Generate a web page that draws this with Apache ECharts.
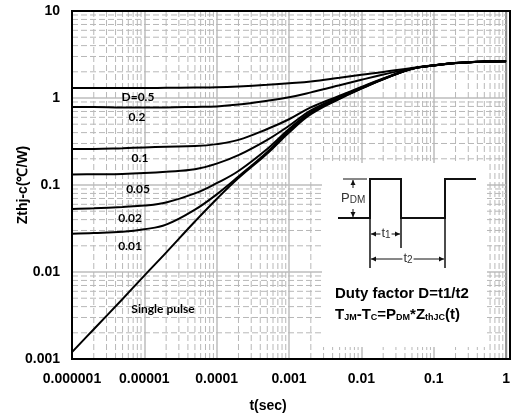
<!DOCTYPE html>
<html>
<head>
<meta charset="utf-8">
<script src="https://cdn.jsdelivr.net/npm/echarts@6/dist/echarts.min.js"></script>
<style>
  html, body { margin: 0; padding: 0; background: #fff; }
  #chart { width: 513px; height: 419px; }
</style>
</head>
<body>
<div id="chart"></div>
<script>
// 时间采样点 (s)
var timeValues = [1e-6, 2e-6, 5e-6, 1e-5, 2e-5, 5e-5, 1e-4, 2e-4, 5e-4, 1e-3, 2e-3, 5e-3, 1e-2, 2e-2, 5e-2, 0.1, 0.2, 0.5, 1];

// 各占空比下的瞬态热阻 Zthj-c (℃/W)
var zthD05 = [1.30, 1.30, 1.30, 1.30, 1.31, 1.32, 1.33, 1.36, 1.42, 1.48, 1.55, 1.71, 1.85, 1.99, 2.22, 2.38, 2.52, 2.62, 2.65];
var zthD02 = [0.79, 0.79, 0.78, 0.78, 0.78, 0.79, 0.80, 0.84, 0.93, 1.02, 1.16, 1.40, 1.62, 1.86, 2.19, 2.37, 2.52, 2.62, 2.65];
var zthD01 = [0.26, 0.26, 0.265, 0.27, 0.275, 0.28, 0.295, 0.33, 0.44, 0.57, 0.78, 1.06, 1.34, 1.68, 2.18, 2.37, 2.52, 2.62, 2.65];
var zthD005 = [0.132, 0.133, 0.134, 0.137, 0.142, 0.152, 0.176, 0.22, 0.33, 0.48, 0.72, 1.03, 1.32, 1.66, 2.17, 2.37, 2.52, 2.62, 2.65];
var zthD002 = [0.053, 0.054, 0.056, 0.058, 0.063, 0.08, 0.105, 0.145, 0.26, 0.44, 0.69, 1.0, 1.30, 1.65, 2.17, 2.37, 2.52, 2.62, 2.65];
var zthD001 = [0.0275, 0.028, 0.029, 0.031, 0.035, 0.052, 0.078, 0.125, 0.24, 0.42, 0.67, 0.99, 1.29, 1.64, 2.16, 2.36, 2.52, 2.62, 2.65];
var zthSingle = [0.0012, 0.0022, 0.0049, 0.0091, 0.0167, 0.038, 0.069, 0.12, 0.23, 0.40, 0.65, 0.98, 1.28, 1.64, 2.16, 2.36, 2.51, 2.62, 2.65];

// 刻度标签
var xTickLabels = ['0.000001', '0.00001', '0.0001', '0.001', '0.01', '0.1', '1'];
var yTickLabels = ['0.001', '0.01', '0.1', '1', '10'];

var seriesList = [
    {name: 'D=0.5', values: zthD05},
    {name: 'D=0.2', values: zthD02},
    {name: 'D=0.1', values: zthD01},
    {name: 'D=0.05', values: zthD005},
    {name: 'D=0.02', values: zthD002},
    {name: 'D=0.01', values: zthD001},
    {name: 'Single pulse', values: zthSingle}
];

var X_MIN = 1e-6, X_MAX = 1, Y_MIN = 0.001, Y_MAX = 10;

// 对数坐标的次网格线 (2..9 倍), 用断开的折线画
function minorValues(fromExp, toExp) {
    var out = [];
    for (var e = fromExp; e < toExp; e++) {
        for (var k = 2; k <= 9; k++) {
            out.push(k * Math.pow(10, e));
        }
    }
    return out;
}
var minorGridData = [];
minorValues(-6, 0).forEach(function (v) {
    minorGridData.push([v, Y_MIN], [v, Y_MAX], [v, '-']);
});
minorValues(-3, 1).forEach(function (v) {
    minorGridData.push([X_MIN, v], [X_MAX, v], [X_MAX, '-']);
});

var labelFont = 'Liberation Sans, Arial, sans-serif';

var series = seriesList.map(function (s) {
    return {
        name: s.name,
        type: 'line',
        smooth: 0.4,
        showSymbol: false,
        silent: true,
        lineStyle: {color: '#000', width: 2},
        data: timeValues.map(function (t, i) { return [t, s.values[i]]; }),
        z: 5
    };
});
series.unshift({
    name: 'minorGrid',
    type: 'line',
    data: minorGridData,
    connectNulls: false,
    showSymbol: false,
    silent: true,
    z: 1,
    lineStyle: {color: '#b8b8b8', width: 1, type: [6, 3]}
});

// 图中曲线标注与右下角说明框
var curveLabels = [
    {text: 'D=0.5', x: 138, y: 97},
    {text: '0.2', x: 137, y: 117},
    {text: '0.1', x: 140, y: 158},
    {text: '0.05', x: 138, y: 189},
    {text: '0.02', x: 130, y: 218},
    {text: '0.01', x: 130, y: 246},
    {text: 'Single pulse', x: 163, y: 309}
];

var graphics = curveLabels.map(function (l) {
    return {
        type: 'text', x: l.x, y: l.y, z: 10,
        style: {text: l.text, fill: '#000', font: 'bold 12px Lato, sans-serif', align: 'center', verticalAlign: 'middle'}
    };
});

function seg(points, w, z) {
    return {type: 'polyline', z: z || 21, shape: {points: points}, style: {stroke: '#111', lineWidth: w || 1, fill: 'none'}};
}
function arrowHead(x, y, dir) {
    var p;
    if (dir === 'l') p = [[x, y], [x + 5, y - 2.5], [x + 5, y + 2.5]];
    else if (dir === 'r') p = [[x, y], [x - 5, y - 2.5], [x - 5, y + 2.5]];
    else if (dir === 'u') p = [[x, y], [x - 2.5, y + 5], [x + 2.5, y + 5]];
    else p = [[x, y], [x - 2.5, y - 5], [x + 2.5, y - 5]];
    return {type: 'polygon', z: 21, shape: {points: p}, style: {fill: '#111'}};
}
var subRich = {
    p: {fontSize: 13, fontFamily: labelFont, fill: '#333'},
    s: {fontSize: 10, fontFamily: labelFont, fill: '#333', verticalAlign: 'bottom', padding: [4, 0, 0, 0]}
};

graphics = graphics.concat([
    {type: 'rect', z: 20, shape: {x: 322, y: 163, width: 165, height: 184}, style: {fill: '#fff'}},
    // 脉冲波形
    seg([[338, 218], [370, 218], [370, 179], [401, 179], [401, 218], [445, 218], [445, 179], [476, 179]], 2),
    seg([[343, 179], [367, 179]], 1),
    seg([[353, 180], [353, 188]], 1),
    seg([[353, 209], [353, 217]], 1),
    arrowHead(353, 180, 'u'),
    arrowHead(353, 217, 'd'),
    {type: 'text', z: 22, x: 341, y: 198, style: {text: '{p|P}{s|DM}', verticalAlign: 'middle', rich: subRich}},
    // t1 / t2 尺寸线
    seg([[370, 218], [370, 268]], 1.5),
    seg([[401, 218], [401, 248]], 1.5),
    seg([[445, 218], [445, 268]], 1.5),
    seg([[371, 234], [400, 234]], 1),
    arrowHead(371, 234, 'l'),
    arrowHead(400, 234, 'r'),
    seg([[371, 259], [444, 259]], 1),
    arrowHead(371, 259, 'l'),
    arrowHead(444, 259, 'r'),
    {type: 'text', z: 22, x: 386, y: 233, style: {
        text: '{p|t}{s|1}', align: 'center', verticalAlign: 'middle', backgroundColor: '#fff', padding: [0, 1], rich: subRich
    }},
    {type: 'text', z: 22, x: 408, y: 258, style: {
        text: '{p|t}{s|2}', align: 'center', verticalAlign: 'middle', backgroundColor: '#fff', padding: [0, 1], rich: subRich
    }},
    {type: 'text', z: 22, x: 335, y: 294, style: {
        text: 'Duty factor D=t1/t2', fill: '#000', font: 'bold 15px ' + labelFont, verticalAlign: 'middle'
    }},
    {type: 'text', z: 22, x: 335, y: 315, style: {
        text: '{n|T}{s|JM}{n|-T}{s|C}{n|=P}{s|DM}{n|*Z}{s|thJC}{n|(t)}', verticalAlign: 'middle',
        rich: {
            n: {fontSize: 15, fontWeight: 'bold', fontFamily: labelFont, fill: '#000'},
            s: {fontSize: 9, fontWeight: 'bold', fontFamily: labelFont, fill: '#000', verticalAlign: 'bottom', padding: [6, 0, 0, 0]}
        }
    }},
    // 绘图区外框
    {type: 'polyline', z: 50, silent: true, shape: {points: [[72, 11], [510, 11], [510, 359], [72, 359], [72, 11]]},
        style: {stroke: '#000', lineWidth: 2, fill: 'none'}}
]);

var chart = echarts.init(document.getElementById('chart'), null, {renderer: 'canvas'});
chart.setOption({
    animation: false,
    backgroundColor: '#fff',
    grid: {left: 72, right: 3, top: 11, bottom: 60, show: true, borderColor: '#000', borderWidth: 2},
    xAxis: {
        type: 'log', logBase: 10, min: X_MIN, max: X_MAX,
        axisLine: {show: true, onZero: false, lineStyle: {color: '#000', width: 2}},
        axisTick: {show: false},
        splitLine: {show: true, lineStyle: {color: '#bdbdbd', width: 1.5}},
        axisLabel: {
            margin: 13, color: '#000', fontSize: 14, fontWeight: 'bold', fontFamily: labelFont,
            formatter: function (v) { return xTickLabels[Math.round(Math.log10(v)) + 6]; }
        },
        name: 't(sec)', nameLocation: 'middle', nameGap: 40, nameMoveOverlap: false,
        nameTextStyle: {color: '#000', fontSize: 14, fontWeight: 'bold', fontFamily: labelFont, padding: [0, 42, 0, 0]}
    },
    yAxis: {
        type: 'log', logBase: 10, min: Y_MIN, max: Y_MAX,
        axisLine: {show: true, onZero: false, lineStyle: {color: '#000', width: 2}},
        axisTick: {show: false},
        splitLine: {show: true, lineStyle: {color: '#bdbdbd', width: 1.5}},
        axisLabel: {
            margin: 12, color: '#000', fontSize: 14, fontWeight: 'bold', fontFamily: labelFont,
            formatter: function (v) { return yTickLabels[Math.round(Math.log10(v)) + 3]; }
        },
        name: 'Zthj-c(℃/W)', nameLocation: 'middle', nameGap: 42, nameMoveOverlap: false,
        nameTextStyle: {color: '#000', fontSize: 14, fontWeight: 'bold', fontFamily: labelFont}
    },
    series: series,
    graphic: graphics
});
</script>
</body>
</html>
